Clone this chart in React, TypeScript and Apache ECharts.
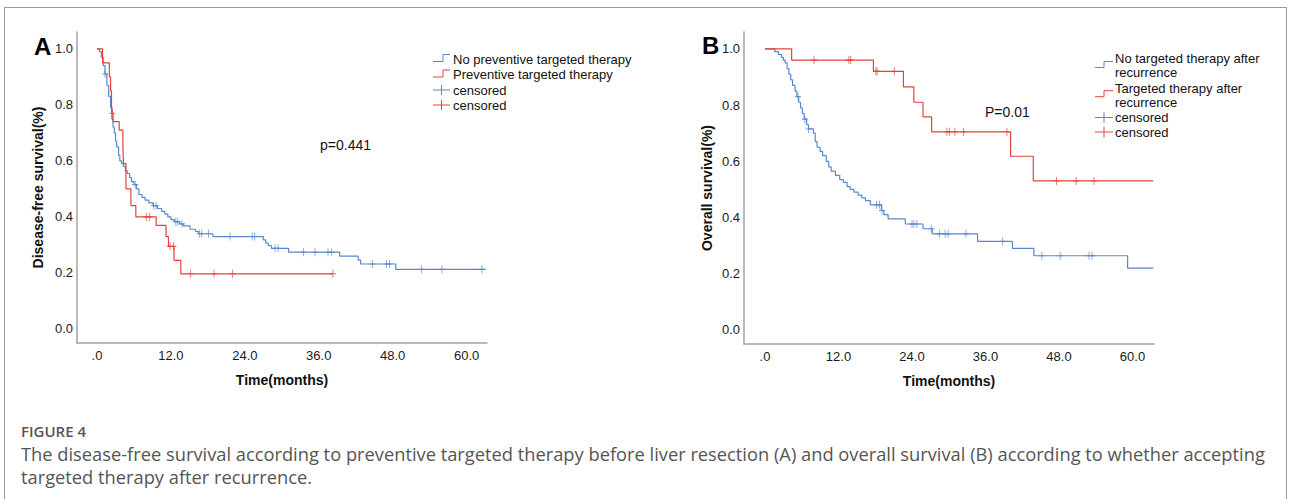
import React, { useEffect, useRef } from 'react';
import * as echarts from 'echarts';

// ---------- axis ticks ----------
const xTicks = [0, 12, 24, 36, 48, 60];
const xTickLabels = ['.0', '12.0', '24.0', '36.0', '48.0', '60.0'];
const yTicks = [0, 0.2, 0.4, 0.6, 0.8, 1.0];
const yTickLabels = ['0.0', '0.2', '0.4', '0.6', '0.8', '1.0'];

// ---------- Panel A: disease-free survival ----------
const dfsNoSteps: [number, number][] = [
  [0, 1.0], [0.4, 0.99], [0.7, 0.97], [1.0, 0.94], [1.3, 0.91], [1.6, 0.87], [1.9, 0.83],
  [2.2, 0.79], [2.4, 0.75], [2.6, 0.72], [2.8, 0.7], [3.0, 0.67], [3.2, 0.65], [3.5, 0.62],
  [3.7, 0.6], [4.0, 0.59], [4.3, 0.58], [4.6, 0.565], [4.9, 0.555], [5.3, 0.54], [5.6, 0.526],
  [6.0, 0.515], [6.4, 0.5], [6.8, 0.48], [7.3, 0.47], [7.8, 0.46], [8.4, 0.45], [9.1, 0.44],
  [9.8, 0.43], [10.5, 0.42], [11.0, 0.41], [11.5, 0.4], [12.0, 0.39], [12.6, 0.383],
  [13.4, 0.375], [14.0, 0.368], [15.1, 0.356], [16.0, 0.348], [16.5, 0.34], [18.8, 0.33],
  [27.0, 0.318], [27.4, 0.307], [27.8, 0.298], [28.3, 0.288], [31.1, 0.274], [39.4, 0.26],
  [42.4, 0.246], [42.8, 0.232], [48.5, 0.213],
];
const dfsNoEnd = 63.1;
const dfsNoCensored: [number, number][] = [
  [1.3, 0.91], [6.2, 0.515], [9.2, 0.44], [9.6, 0.44], [12.8, 0.383], [13.1, 0.383], [13.8, 0.375],
  [16.6, 0.34], [17.0, 0.34], [18.1, 0.34], [21.6, 0.33], [25.2, 0.33], [25.6, 0.33],
  [28.9, 0.288], [29.4, 0.288], [33.5, 0.274], [35.4, 0.274], [37.5, 0.274], [38.1, 0.274],
  [44.7, 0.232], [47.0, 0.232], [47.5, 0.232], [52.7, 0.213], [56.0, 0.213], [62.5, 0.213],
];
const dfsYesSteps: [number, number][] = [
  [0, 1.0], [0.9, 0.95], [2.0, 0.9], [2.2, 0.85], [2.35, 0.8], [2.45, 0.77], [2.6, 0.74],
  [3.6, 0.71], [4.2, 0.65], [4.3, 0.59], [4.7, 0.5], [5.5, 0.44], [6.3, 0.4], [9.6, 0.37],
  [11.2, 0.33], [11.6, 0.295], [12.5, 0.245], [13.6, 0.197],
];
const dfsYesEnd = 38.3;
const dfsYesCensored: [number, number][] = [
  [2.5, 0.77], [8.0, 0.4], [8.5, 0.4], [11.85, 0.295], [12.4, 0.295],
  [15.2, 0.197], [19.0, 0.197], [22.0, 0.197], [38.3, 0.197],
];

// ---------- Panel B: overall survival ----------
const osNoSteps: [number, number][] = [
  [0, 1.0], [1.6, 0.99], [2.2, 0.98], [2.7, 0.97], [3.0, 0.96], [3.3, 0.95], [3.6, 0.93],
  [3.9, 0.91], [4.2, 0.89], [4.5, 0.87], [4.9, 0.85], [5.2, 0.83], [5.5, 0.81], [5.8, 0.79],
  [6.1, 0.77], [6.4, 0.75], [6.8, 0.73], [7.1, 0.715], [7.9, 0.7], [8.2, 0.67], [8.5, 0.65],
  [9.0, 0.635], [9.4, 0.62], [10.0, 0.6], [10.4, 0.58], [10.8, 0.565], [11.5, 0.55],
  [12.2, 0.535], [12.8, 0.525], [13.4, 0.51], [13.9, 0.5], [14.5, 0.49], [15.2, 0.48],
  [15.8, 0.47], [16.4, 0.46], [17.2, 0.445], [19.0, 0.425], [19.4, 0.41], [20.1, 0.395],
  [22.9, 0.377], [25.8, 0.36], [27.3, 0.342], [34.7, 0.315], [40.4, 0.29], [43.9, 0.264],
  [59.2, 0.22],
];
const osNoEnd = 63.4;
const osNoCensored: [number, number][] = [
  [5.4, 0.83], [6.5, 0.75], [7.1, 0.715], [18.2, 0.445], [18.7, 0.445], [19.1, 0.425],
  [24.0, 0.377], [24.3, 0.377], [24.8, 0.377], [27.2, 0.36], [28.5, 0.342], [29.4, 0.342],
  [29.9, 0.342], [32.8, 0.342], [38.8, 0.315], [45.2, 0.264], [48.2, 0.264], [52.9, 0.264],
  [53.4, 0.264],
];
const osYesSteps: [number, number][] = [
  [0, 1.0], [4.35, 0.96], [17.7, 0.92], [22.6, 0.865], [24.3, 0.81], [25.8, 0.758],
  [27.2, 0.705], [40.1, 0.618], [43.8, 0.53],
];
const osYesEnd = 63.4;
const osYesCensored: [number, number][] = [
  [8.0, 0.96], [13.7, 0.96], [14.0, 0.96], [18.1, 0.92], [18.3, 0.92], [21.1, 0.92],
  [29.7, 0.705], [30.1, 0.705], [31.0, 0.705], [32.4, 0.705], [39.5, 0.705],
  [47.6, 0.53], [50.8, 0.53], [53.7, 0.53],
];

// ---------- texts ----------
const legendA = ['No preventive targeted therapy', 'Preventive targeted therapy', 'censored', 'censored'];
const legendB = ['No targeted therapy after\nrecurrence', 'Targeted therapy after\nrecurrence', 'censored', 'censored'];
const pValueA = 'p=0.441';
const pValueB = 'P=0.01';
const figureLabel = 'FIGURE 4';
const captionLines = [
  'The disease-free survival according to preventive targeted therapy before liver resection (A) and overall survival (B) according to whether accepting',
  'targeted therapy after recurrence.',
];

const BLUE = '#5b87cc';
const RED = '#e4433b';
const FONT = '"Liberation Sans", Arial, sans-serif';
const CAPFONT = '"Open Sans", sans-serif';
const AXIS = '#a3a3a3';

const CENSOR_SYMBOL = 'path://M5,0L5,10M0,5L10,5';

function stepData(steps: [number, number][], end: number) {
  return [...steps, [end, steps[steps.length - 1][1]]];
}

function lookup(v: number, vals: number[], labels: string[]) {
  const i = vals.findIndex((x) => Math.abs(x - v) < 1e-6);
  return i >= 0 ? labels[i] : '';
}

function makeXAxis(gridIndex: number, min: number, max: number) {
  return {
    type: 'value',
    gridIndex,
    min,
    max,
    name: 'Time(months)',
    nameLocation: 'middle',
    nameGap: 30,
    nameTextStyle: { fontFamily: FONT, fontWeight: 'bold', fontSize: 14, color: '#111' },
    axisLine: { show: true, onZero: false, lineStyle: { color: AXIS, width: 1.5 } },
    axisTick: { show: false },
    splitLine: { show: false },
    axisLabel: {
      customValues: xTicks,
      formatter: (v: number) => lookup(v, xTicks, xTickLabels),
      margin: 6,
      fontFamily: FONT,
      fontSize: 13,
      color: '#1a1a1a',
    },
  };
}

function makeYAxis(gridIndex: number, name: string, nameGap: number) {
  return {
    type: 'value',
    gridIndex,
    min: -0.05,
    max: 1.06,
    name,
    nameLocation: 'middle',
    nameGap,
    nameTextStyle: { fontFamily: FONT, fontWeight: 'bold', fontSize: 14, color: '#111' },
    axisLine: { show: true, onZero: false, lineStyle: { color: AXIS, width: 1.5 } },
    axisTick: { show: false },
    splitLine: { show: false },
    axisLabel: {
      customValues: yTicks,
      formatter: (v: number) => lookup(v, yTicks, yTickLabels),
      margin: 4,
      fontFamily: FONT,
      fontSize: 13,
      color: '#1a1a1a',
    },
  };
}

function lineSeries(idx: number, steps: [number, number][], end: number, color: string) {
  return {
    type: 'line',
    xAxisIndex: idx,
    yAxisIndex: idx,
    step: 'end',
    symbol: 'none',
    data: stepData(steps, end),
    lineStyle: { color, width: 1.2 },
    silent: true,
    z: 2,
  };
}

function censorSeries(idx: number, pts: [number, number][], color: string) {
  return {
    type: 'scatter',
    xAxisIndex: idx,
    yAxisIndex: idx,
    symbol: CENSOR_SYMBOL,
    symbolSize: [6, 8],
    data: pts,
    itemStyle: { color: 'rgba(0,0,0,0)', borderColor: color, borderWidth: 1 },
    silent: true,
    z: 3,
  };
}

function txt(x: number, y: number, text: string, opts: any = {}) {
  return {
    type: 'text',
    x,
    y,
    silent: true,
    style: {
      text,
      fill: opts.fill || '#111',
      font: opts.font || `13px ${FONT}`,
      align: opts.align || 'left',
      verticalAlign: opts.verticalAlign || 'middle',
      lineHeight: opts.lineHeight,
    },
  };
}

function poly(points: number[][], color: string) {
  return {
    type: 'polyline',
    silent: true,
    shape: { points },
    style: { stroke: color, lineWidth: 1, fill: 'none' },
  };
}

function stepIcon(x: number, yLow: number, color: string, w1: number, w2: number, h: number) {
  return poly([[x, yLow], [x + w1, yLow], [x + w1, yLow - h], [x + w1 + w2, yLow - h]], color);
}

function plusIcon(x: number, y: number, w: number, h: number, color: string) {
  return [poly([[x, y], [x + w, y]], color), poly([[x + w / 2, y - h / 2], [x + w / 2, y + h / 2]], color)];
}

export default function App() {
  const ref = useRef<HTMLDivElement>(null);
  useEffect(() => {
    if (!ref.current) return;
    const chart = echarts.init(ref.current, undefined, { renderer: 'svg' });
    const option: any = {
      animation: false,
      backgroundColor: '#ffffff',
      grid: [
        { left: 77, top: 32, width: 410, height: 311, outerBoundsMode: 'none', containLabel: false },
        { left: 744, top: 32, width: 410, height: 312, outerBoundsMode: 'none', containLabel: false },
      ],
      xAxis: [makeXAxis(0, -3.25, 63.31), makeXAxis(1, -3.43, 63.51)],
      yAxis: [makeYAxis(0, 'Disease-free survival(%)', 32), makeYAxis(1, 'Overall survival(%)', 30)],
      series: [
        lineSeries(0, dfsNoSteps, dfsNoEnd, BLUE),
        lineSeries(0, dfsYesSteps, dfsYesEnd, RED),
        censorSeries(0, dfsNoCensored, BLUE),
        censorSeries(0, dfsYesCensored, RED),
        lineSeries(1, osNoSteps, osNoEnd, BLUE),
        lineSeries(1, osYesSteps, osYesEnd, RED),
        censorSeries(1, osNoCensored, BLUE),
        censorSeries(1, osYesCensored, RED),
      ],
      graphic: [
        {
          type: 'rect',
          silent: true,
          shape: { x: 4.5, y: 7.5, width: 1282, height: 520 },
          style: { fill: 'none', stroke: '#9a9a9a', lineWidth: 1 },
          z: -1,
        },
        txt(34, 46, 'A', { font: `bold 24px ${FONT}`, fill: '#000' }),
        txt(702, 45, 'B', { font: `bold 24px ${FONT}`, fill: '#000' }),
        txt(320, 145, pValueA, { font: `14px ${FONT}` }),
        txt(985, 112, pValueB, { font: `14px ${FONT}` }),
        // legend A
        stepIcon(433, 61.5, BLUE, 10, 7, 7),
        txt(453, 59, legendA[0]),
        stepIcon(433, 77, RED, 10, 7, 7),
        txt(453, 74.5, legendA[1]),
        ...plusIcon(433, 90, 17, 10, BLUE),
        txt(453, 90, legendA[2]),
        ...plusIcon(433, 105, 17, 10, RED),
        txt(453, 105.5, legendA[3]),
        // legend B
        stepIcon(1095, 67.5, BLUE, 9, 9, 6),
        txt(1115, 51.3, legendB[0], { verticalAlign: 'top', lineHeight: 14 }),
        stepIcon(1095, 96.7, RED, 9, 9, 6),
        txt(1115, 81, legendB[1], { verticalAlign: 'top', lineHeight: 14 }),
        ...plusIcon(1095, 117.5, 18, 11, BLUE),
        txt(1115, 117.5, legendB[2]),
        ...plusIcon(1095, 132, 18, 11, RED),
        txt(1115, 132, legendB[3]),
        // caption
        txt(21, 431, figureLabel, { font: `600 15px ${CAPFONT}`, fill: '#555' }),
        txt(21, 453, captionLines[0], { font: `18.3px ${CAPFONT}`, fill: '#555' }),
        txt(21, 476, captionLines[1], { font: `18.3px ${CAPFONT}`, fill: '#555' }),
      ],
    };
    chart.setOption(option);
    return () => chart.dispose();
  }, []);
  return (
    <div
      ref={ref}
      style={{ position: 'absolute', left: 0, top: 0, width: 1290, height: 499, background: '#fff' }}
    />
  );
}
